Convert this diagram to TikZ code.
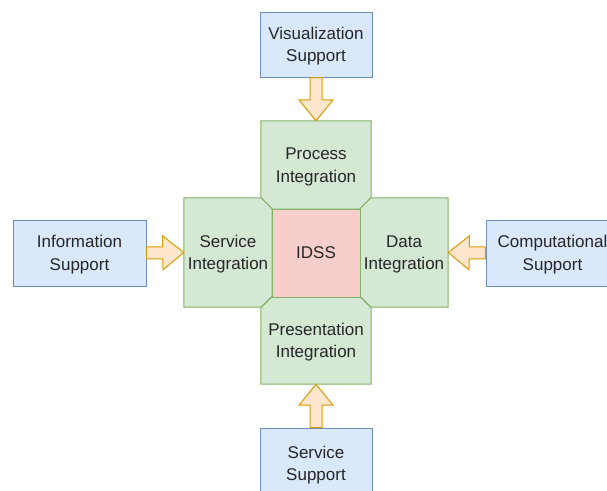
\documentclass[tikz,border=0pt]{standalone}
\usepackage{fontspec}
\setmainfont{Liberation Sans}
\usetikzlibrary{calc,backgrounds}

\definecolor{bluefill}{HTML}{DAE8FC}
\definecolor{blueline}{HTML}{6C8EBF}
\definecolor{greenfill}{HTML}{D5E8D4}
\definecolor{greenline}{HTML}{82B366}
\definecolor{redfill}{HTML}{F8CECC}
\definecolor{arrowfill}{HTML}{FFE6CC}
\definecolor{arrowline}{HTML}{D79B00}
\definecolor{ink}{HTML}{262626}

% taller first line so two-line labels sit a little lower in their boxes
\newcommand{\capstrut}{\rule{0pt}{15.7pt}}

\tikzset{
  label text/.style={text=ink, align=center, inner sep=0pt,
    font=\fontsize{17}{22.3}\selectfont},
  support/.style={label text, draw=blueline, fill=bluefill, line width=1pt,
    minimum width=112pt, minimum height=65pt},
  integ/.style={label text},
  layer/.style={draw=greenline, fill=greenfill, line width=1pt, line join=miter},
  core/.style={label text, fill=redfill, draw=greenline, line width=1pt,
    minimum width=88pt, minimum height=88pt},
  % wide block arrow: shaft half-width 6pt, head half-width 17pt, head length 21pt
  blockarrow/.style={draw=arrowline, fill=arrowfill, line width=1pt, line join=miter,
    to path={
      ($(\tikztotarget)!21pt!(\tikztostart)$) coordinate (ahbase)
      ($(\tikztostart)!6pt!90:(\tikztotarget)$)
      -- ($(ahbase)!6pt!90:(\tikztotarget)$)
      -- ($(ahbase)!17pt!90:(\tikztotarget)$)
      -- (\tikztotarget)
      -- ($(ahbase)!17pt!-90:(\tikztotarget)$)
      -- ($(ahbase)!6pt!-90:(\tikztotarget)$)
      -- ($(\tikztostart)!6pt!-90:(\tikztotarget)$)
      -- cycle}}
}

\begin{document}
\begin{tikzpicture}[x=1pt, y=-1pt]
  \path[use as bounding box, clip] (0,0) rectangle (607,490);

  % central core and the four integration layers around it
  \node[core] (idss) at (316,253) {IDSS};
  \node[integ, minimum width=110pt, minimum height=88pt]
    (proc) at (316,165) {\capstrut Process\\Integration};
  \node[integ, minimum width=88pt, minimum height=109pt]
    (serv) at (228,252.5) {\capstrut Service\\Integration};
  \node[integ, minimum width=88pt, minimum height=109pt]
    (data) at (404,252.5) {\capstrut Data\\Integration};
  \node[integ, minimum width=110pt, minimum height=87pt]
    (pres) at (316,340.5) {\capstrut Presentation\\Integration};

  % chamfered layer outlines, the cut corners meeting around the core
  \begin{scope}[on background layer]
    \draw[layer] (proc.north west) -- (proc.north east)
      -- ([yshift=11pt]proc.south east) -- ([xshift=-11pt]proc.south east)
      -- ([xshift=11pt]proc.south west) -- ([yshift=11pt]proc.south west) -- cycle;
    \draw[layer] (serv.north west) -- ([xshift=-11pt]serv.north east)
      -- ([yshift=-11pt]serv.north east) -- ([yshift=11pt]serv.south east)
      -- ([xshift=-11pt]serv.south east) -- (serv.south west) -- cycle;
    \draw[layer] ([xshift=11pt]data.north west) -- (data.north east)
      -- (data.south east) -- ([xshift=11pt]data.south west)
      -- ([yshift=11pt]data.south west) -- ([yshift=-11pt]data.north west) -- cycle;
    \draw[layer] ([yshift=-11pt]pres.north west) -- ([xshift=11pt]pres.north west)
      -- ([xshift=-11pt]pres.north east) -- ([yshift=-11pt]pres.north east)
      -- (pres.south east) -- (pres.south west) -- cycle;
  \end{scope}

  % outer support boxes
  \node[support] (vis) at (316,44.5) {\capstrut Visualization\\Support};
  \node[support, minimum width=133pt, minimum height=66pt]
    (info) at (79.5,253) {\capstrut Information\\Support};
  \node[support, minimum width=133pt, minimum height=66pt]
    (comp) at (552.5,253) {\capstrut Computational\\Support};
  \node[support, minimum height=71pt] (svcsup) at (316,463.5) {\capstrut Service\\Support};

  % feeding arrows
  \draw[blockarrow] (vis.south) to (proc.north);
  \draw[blockarrow] (info.east) to (serv.west);
  \draw[blockarrow] (comp.west) to (data.east);
  \draw[blockarrow] (svcsup.north) to (pres.south);
\end{tikzpicture}
\end{document}
